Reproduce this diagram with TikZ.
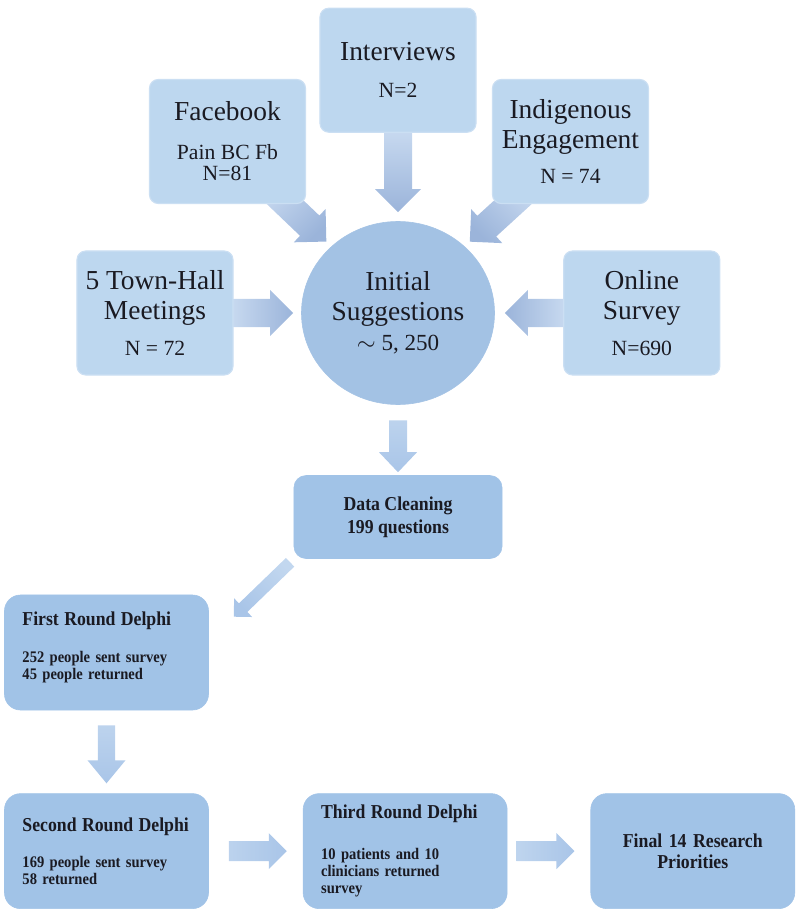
\documentclass[tikz,border=0pt]{standalone}
\usepackage{fontspec}
\setmainfont{Liberation Serif}
\newfontfamily\narrowserif{Liberation Serif}[FakeStretch=0.9]
\usetikzlibrary{positioning,calc,shapes.geometric}
\definecolor{BoxPale}{HTML}{BDD7EF}
\definecolor{BoxRim}{HTML}{CBDFF3}
\definecolor{BoxMid}{HTML}{A1C3E7}
\definecolor{HubBlue}{HTML}{A3C2E4}
\definecolor{ArrLight}{HTML}{C6D8EF}
\definecolor{ArrDark}{HTML}{9BB4DA}
\definecolor{ArrSoftLight}{HTML}{C2D7EF}
\definecolor{ArrSoft}{HTML}{A9C5E8}
\definecolor{Ink}{HTML}{1A1A22}
\pgfdeclarelayer{back}
\pgfsetlayers{back,main}
\newcommand{\bigtxt}{\fontsize{19.5}{21.3}\selectfont}
\newcommand{\numtxt}{\fontsize{15.4}{17}\selectfont}
\newcommand{\headtxt}{\narrowserif\fontsize{14}{16}\selectfont\bfseries}
\newcommand{\bodytxt}{\narrowserif\fontsize{11.5}{12}\selectfont\bfseries}

\begin{document}
\begin{tikzpicture}[x=0.025cm,y=-0.025cm,
  srcbox/.style={rounded corners=0.22cm,draw=BoxRim,line width=0.8pt,fill=BoxPale,
    minimum width=3.9cm,minimum height=3.1cm,align=center,font=\bigtxt,text=Ink},
  hub/.style={ellipse,draw=HubBlue,fill=HubBlue,minimum width=4.825cm,minimum height=4.575cm,
    inner sep=0pt,align=center,font=\bigtxt,text=Ink},
  cleanbox/.style={rounded corners=0.3cm,draw=BoxMid,fill=BoxMid,minimum width=5.2cm,
    minimum height=2.075cm,align=center,font=\headtxt,text=Ink},
  stepbox/.style={rounded corners=0.4cm,draw=BoxMid,fill=BoxMid,minimum height=2.875cm,
    text width=4.2cm,inner xsep=0.45cm,align=left,font=\bodytxt,text=Ink},
  sgap/.store in=\sgap,egap/.store in=\egap,sgap=0pt,egap=0pt,
  fatarrow/.style n args={3}{to path={
    let \p1=(\tikztostart),\p2=(\tikztotarget),
        \p3=($(\p1)!\sgap!(\p2)$),\p4=($(\p2)!\egap!(\p1)$),
        \p5=($(\p4)!#3!(\p3)$) in
    ($(\p3)!#1!90:(\p4)$) -- ($(\p5)!#1!90:(\p4)$) -- ($(\p5)!#2!90:(\p4)$) -- (\p4)
    -- ($(\p5)!#2!-90:(\p4)$) -- ($(\p5)!#1!-90:(\p4)$) -- ($(\p3)!#1!-90:(\p4)$) -- cycle}},
  bigarr/.style={top color=ArrLight,bottom color=ArrDark,fatarrow={0.35cm}{0.575cm}{0.575cm}},
  midarr/.style={top color=ArrSoftLight,bottom color=ArrSoft,fatarrow={0.225cm}{0.475cm}{0.5cm}},
  thinarr/.style={top color=ArrSoftLight,bottom color=ArrSoft,fatarrow={0.15cm}{0.325cm}{0.325cm}},
  downarr/.style={top color=ArrSoftLight,bottom color=ArrSoft,fatarrow={0.2125cm}{0.475cm}{0.575cm}},
  rowarr/.style={top color=ArrSoftLight,bottom color=ArrSoft,fatarrow={0.25cm}{0.45cm}{0.45cm}}
]
\useasboundingbox (0,0) rectangle (800,911);
\node[hub] (hub) at (398,313) {Initial\\Suggestions\\{\fontsize{16.4}{18}\selectfont$\sim$ 5, 250}};
\node[srcbox,left=1.69cm of hub] (townhall) {5 Town-Hall\\Meetings\\[4.3pt]{\numtxt N = 72}};
\node[srcbox,right=1.71cm of hub] (online) {Online\\Survey\\[4.3pt]{\numtxt N=690}};
\node[srcbox,above=2.21cm of hub] (interviews) {Interviews\\[5pt]{\numtxt N=2}};
\node[srcbox] (facebook) at (227.5,141.5) {Facebook\\[6.4pt]{\numtxt Pain BC Fb}\\[-6.3pt]{\numtxt N=81}};
\node[srcbox] (indig) at (570.5,141.5) {Indigenous\\Engagement\\[3.6pt]{\numtxt N = 74}};
\node[cleanbox,below=1.76cm of hub] (cleaning) {Data Cleaning\\199 questions};
\node[stepbox] (delphione) at (106.5,652.5) {{\headtxt First Round Delphi}\\[14pt]252 people sent survey\\45 people returned\par\vspace*{7pt}};
\node[stepbox,below=2.075cm of delphione] (delphitwo) {{\headtxt Second Round Delphi}\\[13.5pt]169 people sent survey\\58 returned};
\node[stepbox,right=2.35cm of delphitwo] (delphithree) {{\headtxt Third Round Delphi}\\[17pt]10 patients and 10\\clinicians returned\\survey};
\node[stepbox,right=2.075cm of delphithree,align=center,font=\narrowserif\fontsize{14}{14.5}\selectfont\bfseries] (final) {Final 14 Research\\Priorities};
\begin{pgfonlayer}{back}
\path[bigarr,shading angle=90,egap=0.2cm] (townhall.east) to (hub.west);
\path[bigarr,shading angle=-90,egap=0.25cm] (online.west) to (hub.east);
\path[bigarr,egap=0.225cm] (interviews.south) to (hub.north);
\path[bigarr,shading angle=45,sgap=-0.5cm,egap=0.175cm] ($(facebook.south east)+(-19,0)$) to (hub.135);
\path[bigarr,shading angle=-45,sgap=-0.5cm,egap=0.175cm] ($(indig.south west)+(19,0)$) to (hub.45);
\path[midarr,sgap=0.3875cm,egap=0.075cm] (hub.south) to (cleaning.north);
\path[thinarr,shading angle=-45,sgap=0.125cm] (cleaning.south west) to ($(delphione.north east)+(25,22)$);
\path[downarr,sgap=0.375cm,egap=0.25cm] (delphione.south) to (delphitwo.north);
\path[rowarr,shading angle=90,sgap=0.5cm,egap=0.4cm] (delphitwo.east) to (delphithree.west);
\path[rowarr,shading angle=90,sgap=0.225cm,egap=0.4cm] (delphithree.east) to (final.west);
\end{pgfonlayer}
\end{tikzpicture}
\end{document}
